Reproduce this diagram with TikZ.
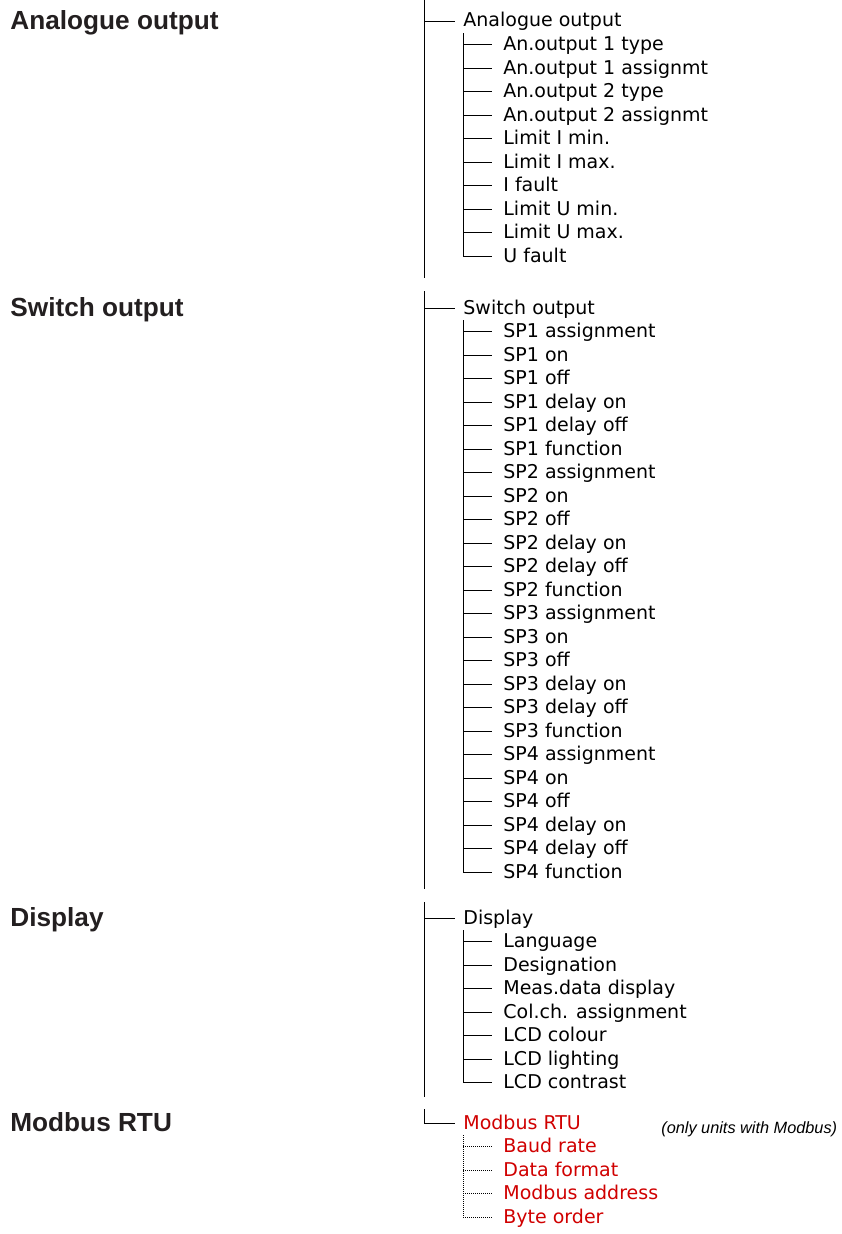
\documentclass[tikz,border=0pt]{standalone}
\usepackage{fontspec}
\setmainfont{Liberation Sans}
\newfontfamily\lcdfont{DejaVu Sans}
\usepackage{xcolor}
\usetikzlibrary{positioning}
\definecolor{headgray}{HTML}{231F20}
\definecolor{modred}{HTML}{D00000}

\begin{document}
\begin{tikzpicture}[
  x=1pt, y=-1pt,
  node distance=23.5pt and 11pt,
  line width=0.8pt,
  heading/.style={anchor=west, inner sep=0pt, text height=16pt, text depth=0pt, text=headgray, font=\fontsize{26.2}{30}\selectfont\bfseries},
  entry/.style={anchor=west, inner sep=0pt, text height=12pt, text depth=0pt, font=\lcdfont\fontsize{19}{22}\selectfont},
  optional/.style={entry, text=modred},
  under/.style={below=of #1.west, anchor=west},
  sub/.style={under=#1, xshift=40pt},
  note/.style={anchor=west, inner sep=0pt, font=\itshape\fontsize{16.3}{20}\selectfont},
  optline/.style={dash pattern=on 0.8pt off 1.2pt}
]
\useasboundingbox (0,0) rectangle (841,1234);

% Headings on the left
\node[heading] (hao)   at (10,21)   {Analogue output};
\node[heading] (hso)   at (10,308)  {Switch output};
\node[heading] (hdisp) at (10,918)  {Display};
\node[heading] (hmb)   at (10,1123) {Modbus RTU};

% Menu spine
\coordinate (t1) at (424,0);    \coordinate (b1) at (424,278);
\coordinate (t2) at (424,291);  \coordinate (b2) at (424,889);
\coordinate (t3) at (424,902);  \coordinate (b3) at (424,1097);
\coordinate (t4) at (424,1109);

% Analogue output
\node[entry] (ao) at (463,21) {Analogue output};
\node[entry, sub=ao]    (ao1)  {An.output 1 type};
\node[entry, under=ao1] (ao2)  {An.output 1 assignmt};
\node[entry, under=ao2] (ao3)  {An.output 2 type};
\node[entry, under=ao3] (ao4)  {An.output 2 assignmt};
\node[entry, under=ao4] (ao5)  {Limit I min.};
\node[entry, under=ao5] (ao6)  {Limit I max.};
\node[entry, under=ao6] (ao7)  {I fault};
\node[entry, under=ao7] (ao8)  {Limit U min.};
\node[entry, under=ao8] (ao9)  {Limit U max.};
\node[entry, under=ao9] (ao10) {U fault};

% Switch output
\node[entry] (so) at (463,308) {Switch output};
\node[entry, sub=so]     (so1)  {SP1 assignment};
\node[entry, under=so1]  (so2)  {SP1 on};
\node[entry, under=so2]  (so3)  {SP1 off};
\node[entry, under=so3]  (so4)  {SP1 delay on};
\node[entry, under=so4]  (so5)  {SP1 delay off};
\node[entry, under=so5]  (so6)  {SP1 function};
\node[entry, under=so6]  (so7)  {SP2 assignment};
\node[entry, under=so7]  (so8)  {SP2 on};
\node[entry, under=so8]  (so9)  {SP2 off};
\node[entry, under=so9]  (so10) {SP2 delay on};
\node[entry, under=so10] (so11) {SP2 delay off};
\node[entry, under=so11] (so12) {SP2 function};
\node[entry, under=so12] (so13) {SP3 assignment};
\node[entry, under=so13] (so14) {SP3 on};
\node[entry, under=so14] (so15) {SP3 off};
\node[entry, under=so15] (so16) {SP3 delay on};
\node[entry, under=so16] (so17) {SP3 delay off};
\node[entry, under=so17] (so18) {SP3 function};
\node[entry, under=so18] (so19) {SP4 assignment};
\node[entry, under=so19] (so20) {SP4 on};
\node[entry, under=so20] (so21) {SP4 off};
\node[entry, under=so21] (so22) {SP4 delay on};
\node[entry, under=so22] (so23) {SP4 delay off};
\node[entry, under=so23] (so24) {SP4 function};

% Display
\node[entry] (disp) at (463,918) {Display};
\node[entry, sub=disp]    (disp1) {Language};
\node[entry, under=disp1] (disp2) {Designation};
\node[entry, under=disp2] (disp3) {Meas.data display};
\node[entry, under=disp3] (disp4) {Col.ch. assignment};
\node[entry, under=disp4] (disp5) {LCD colour};
\node[entry, under=disp5] (disp6) {LCD lighting};
\node[entry, under=disp6] (disp7) {LCD contrast};

% Modbus RTU (optional)
\node[optional] (mb) at (463,1123) {Modbus RTU};
\node[optional, sub=mb]    (mb1) {Baud rate};
\node[optional, under=mb1] (mb2) {Data format};
\node[optional, under=mb2] (mb3) {Modbus address};
\node[optional, under=mb3] (mb4) {Byte order};
\node[note] (note) at (661,1129) {(only units with Modbus)};

% Spine and branches
\draw (t1) -- (b1);
\draw (t2) -- (b2);
\draw (t3) -- (b3);
\draw (t1 |- ao.west)   -- ([xshift=-8pt]ao.west);
\draw (t2 |- so.west)   -- ([xshift=-8pt]so.west);
\draw (t3 |- disp.west) -- ([xshift=-8pt]disp.west);
\draw (t4) |- ([xshift=-8pt]mb.west);

% Sub-menu branches
\foreach \n in {1,...,9}
  \draw (ao.west |- ao\n.west) -- ([xshift=-11pt]ao\n.west);
\draw ([yshift=-12pt]ao.west) |- ([xshift=-11pt]ao10.west);
\foreach \n in {1,...,23}
  \draw (so.west |- so\n.west) -- ([xshift=-11pt]so\n.west);
\draw ([yshift=-12pt]so.west) |- ([xshift=-11pt]so24.west);
\foreach \n in {1,...,6}
  \draw (disp.west |- disp\n.west) -- ([xshift=-11pt]disp\n.west);
\draw ([yshift=-12pt]disp.west) |- ([xshift=-11pt]disp7.west);
\foreach \n in {1,...,3}
  \draw[optline] (mb.west |- mb\n.west) -- ([xshift=-11pt]mb\n.west);
\draw[optline] ([yshift=-12pt]mb.west) |- ([xshift=-11pt]mb4.west);
\end{tikzpicture}
\end{document}
